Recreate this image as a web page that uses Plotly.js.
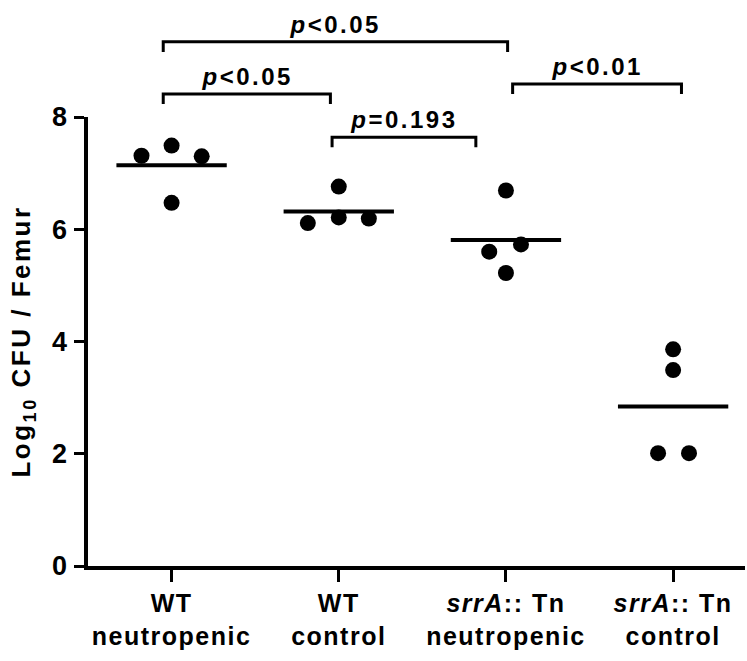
<!DOCTYPE html>
<html>
<head>
<meta charset="utf-8">
<script src="https://cdn.plot.ly/plotly-3.0.1.min.js"></script>
<style>
html, body { margin: 0; padding: 0; background: #fff; }
#chart { width: 747px; height: 661px; }
.main-svg text { letter-spacing: 1.5px; }
.main-svg .ytitle { letter-spacing: 2.5px; }
.main-svg .annotation-text { letter-spacing: 2.5px; }
</style>
</head>
<body>
<div id="chart"></div>
<script>
// ---- data ----
const categories = [
  "WT<br>neutropenic",
  "WT<br>control",
  "<i>srrA</i>:: Tn<br>neutropenic",
  "<i>srrA</i>:: Tn<br>control"
];
// log10 CFU / femur for each animal
const wtNeutropenic   = [7.31, 7.49, 7.30, 6.47];
const wtControl       = [6.76, 6.11, 6.21, 6.19];
const srrANeutropenic = [6.69, 5.60, 5.73, 5.22];
const srrAControl     = [3.86, 3.49, 2.01, 2.01];
// horizontal scatter offsets of the points within each group (category units)
const jitterWtNeutropenic   = [-0.18, 0.0, 0.18, 0.0];
const jitterWtControl       = [0.0, -0.185, 0.0, 0.18];
const jitterSrrANeutropenic = [0.0, -0.10, 0.09, 0.0];
const jitterSrrAControl     = [0.0, 0.0, -0.09, 0.095];
// pairwise comparisons (category indices) and their p-value labels
const compFrom   = [0, 0, 1, 2];
const compTo     = [2, 1, 2, 3];
const compLabels = ["<i>p</i>&lt;0.05", "<i>p</i>&lt;0.05", "<i>p</i>=0.193", "<i>p</i>&lt;0.01"];
const yTickVals  = [0, 2, 4, 6, 8];

// ---- drawing ----
const groups = [wtNeutropenic, wtControl, srrANeutropenic, srrAControl];
const jitters = [jitterWtNeutropenic, jitterWtControl, jitterSrrANeutropenic, jitterSrrAControl];
const Y_MAX = 8;
const FONT = "Liberation Sans, Arial, sans-serif";

const traces = [];
groups.forEach((vals, i) => {
  traces.push({
    type: "scatter", mode: "markers",
    x: vals.map((v, k) => i + jitters[i][k]),
    y: vals,
    marker: { color: "#000", size: 16, line: { width: 0 } },
    cliponaxis: false, showlegend: false, hoverinfo: "y"
  });
  const mean = vals.reduce((a, b) => a + b, 0) / vals.length;
  traces.push({
    type: "scatter", mode: "lines",
    x: [i - 0.33, i + 0.33], y: [mean, mean],
    line: { color: "#000", width: 4 },
    cliponaxis: false, showlegend: false, hoverinfo: "skip"
  });
});

// bracket layout (levels in log units, end offsets in category units)
const bracketLevel = [9.34, 8.41, 7.64, 8.59];
const bracketOffFrom = [-0.05, -0.05, -0.04, 0.04];
const bracketOffTo = [0.01, -0.05, -0.18, 0.05];
const tail = 0.18;

const shapes = [];
const annotations = [];
compFrom.forEach((a, j) => {
  const x0 = a + bracketOffFrom[j];
  const x1 = compTo[j] + bracketOffTo[j];
  const yTop = bracketLevel[j] / Y_MAX;
  const yEnd = (bracketLevel[j] - tail) / Y_MAX;
  shapes.push({
    type: "path", xref: "x", yref: "paper",
    path: `M ${x0} ${yEnd} L ${x0} ${yTop} L ${x1} ${yTop} L ${x1} ${yEnd}`,
    line: { color: "#000", width: 3 }
  });
  annotations.push({
    xref: "x", yref: "paper", x: (x0 + x1) / 2, y: yTop,
    xanchor: "center", yanchor: "bottom", yshift: 2,
    text: compLabels[j], showarrow: false,
    font: { family: FONT, size: 24, color: "#000", weight: 700 }
  });
});

const layout = {
  width: 747, height: 661,
  margin: { l: 88, r: 2, t: 117, b: 95 },
  paper_bgcolor: "#fff", plot_bgcolor: "#fff",
  font: { family: FONT, color: "#000", weight: 700 },
  xaxis: {
    range: [-0.5, 3.43],
    tickvals: [0, 1, 2, 3], ticktext: categories,
    showgrid: false, zeroline: false,
    showline: true, linecolor: "#000", linewidth: 4,
    ticks: "outside", ticklen: 12, tickwidth: 3, tickcolor: "#000",
    tickfont: { family: FONT, size: 25, color: "#000", weight: 700 }
  },
  yaxis: {
    range: [0, Y_MAX],
    tickvals: yTickVals,
    showgrid: false, zeroline: false,
    showline: true, linecolor: "#000", linewidth: 4,
    ticks: "outside", ticklen: 10, tickwidth: 3, tickcolor: "#000",
    tickfont: { family: FONT, size: 27, color: "#000", weight: 700 },
    title: { text: "Log<sub>10</sub> CFU / Femur", standoff: 16,
             font: { family: FONT, size: 26, color: "#000", weight: 700 } }
  },
  shapes: shapes,
  annotations: annotations,
  showlegend: false
};

Plotly.newPlot("chart", traces, layout, { staticPlot: true, displayModeBar: false });
</script>
</body>
</html>
